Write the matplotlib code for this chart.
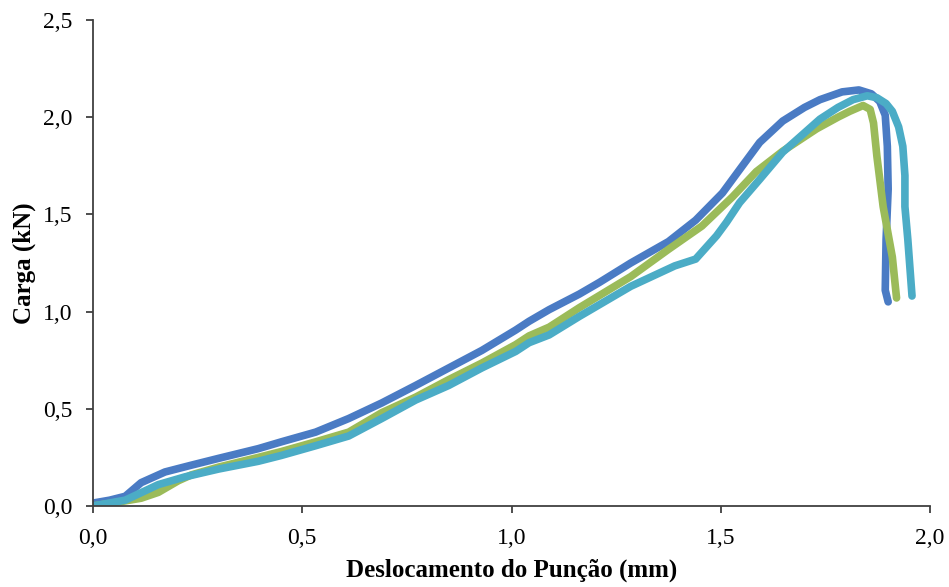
import matplotlib
matplotlib.use("Agg")
import matplotlib.pyplot as plt
from matplotlib.ticker import FuncFormatter

# curvas carga x deslocamento (mm, kN) - tres corpos de prova
desl_1 = [0.0, 0.04, 0.077, 0.115, 0.172, 0.235, 0.30, 0.395, 0.45, 0.532, 0.611, 0.69,
          0.771, 0.85, 0.929, 1.01, 1.042, 1.09, 1.162, 1.21, 1.285, 1.375, 1.44, 1.504,
          1.545, 1.593, 1.648, 1.70, 1.737, 1.79, 1.83, 1.86, 1.88, 1.893, 1.898, 1.90,
          1.895, 1.893, 1.90]
carga_1 = [0.015, 0.03, 0.05, 0.12, 0.175, 0.21, 0.245, 0.295, 0.33, 0.38, 0.45, 0.53,
           0.62, 0.71, 0.80, 0.905, 0.95, 1.01, 1.09, 1.15, 1.25, 1.36, 1.47, 1.61,
           1.73, 1.87, 1.98, 2.05, 2.09, 2.13, 2.14, 2.12, 2.08, 2.01, 1.85, 1.63,
           1.37, 1.11, 1.05]

desl_2 = [0.0, 0.06, 0.115, 0.156, 0.204, 0.235, 0.30, 0.395, 0.45, 0.532, 0.611, 0.69,
          0.771, 0.85, 0.929, 1.01, 1.042, 1.09, 1.162, 1.285, 1.375, 1.455, 1.528, 1.585,
          1.648, 1.729, 1.78, 1.808, 1.84, 1.857, 1.865, 1.873, 1.888, 1.91, 1.92]
carga_2 = [0.0, 0.02, 0.04, 0.07, 0.13, 0.16, 0.20, 0.25, 0.28, 0.33, 0.38, 0.48,
           0.56, 0.65, 0.735, 0.83, 0.875, 0.92, 1.02, 1.18, 1.32, 1.44, 1.59, 1.72,
           1.825, 1.94, 2.0, 2.03, 2.06, 2.04, 1.97, 1.80, 1.54, 1.28, 1.07]

desl_3 = [0.0, 0.077, 0.156, 0.22, 0.30, 0.395, 0.45, 0.532, 0.611, 0.69, 0.771, 0.85,
          0.929, 1.01, 1.042, 1.09, 1.162, 1.285, 1.39, 1.44, 1.49, 1.514, 1.545, 1.593,
          1.648, 1.737, 1.78, 1.816, 1.85, 1.873, 1.895, 1.91, 1.925, 1.935, 1.94, 1.94,
          1.947, 1.957]
carga_3 = [0.0, 0.03, 0.11, 0.15, 0.19, 0.23, 0.26, 0.31, 0.36, 0.45, 0.545, 0.62,
           0.71, 0.795, 0.84, 0.88, 0.975, 1.13, 1.235, 1.27, 1.39, 1.46, 1.56, 1.68,
           1.82, 1.99, 2.05, 2.09, 2.11, 2.10, 2.07, 2.03, 1.95, 1.85, 1.70, 1.54,
           1.37, 1.08]

cores = ["#4a7bc4", "#9bbb59", "#4bacc6"]

plt.rcParams["font.family"] = ["Liberation Serif", "DejaVu Serif"]

fig = plt.figure(figsize=(9.49, 5.87), dpi=100)
ax = fig.add_axes([0.098, 0.138, 0.882, 0.828])

for x, y, c in zip([desl_1, desl_2, desl_3], [carga_1, carga_2, carga_3], cores):
    ax.plot(x, y, color=c, linewidth=5.5, solid_capstyle="round",
            solid_joinstyle="round")

ax.set_xlim(0, 2.0)
ax.set_ylim(0, 2.5)
ax.set_xticks([0, 0.5, 1.0, 1.5, 2.0])
ax.set_yticks([0, 0.5, 1.0, 1.5, 2.0, 2.5])
virgula = FuncFormatter(lambda v, p: ("%.1f" % v).replace(".", ","))
ax.xaxis.set_major_formatter(virgula)
ax.yaxis.set_major_formatter(virgula)

for lado in ["top", "right"]:
    ax.spines[lado].set_visible(False)
for lado in ["left", "bottom"]:
    ax.spines[lado].set_color("#404040")
    ax.spines[lado].set_linewidth(1.3)
ax.tick_params(direction="out", length=5, width=1.3, color="#404040", labelsize=17)
ax.tick_params(axis="x", pad=11)
ax.tick_params(axis="y", pad=10)

ax.set_xlabel("Deslocamento do Punção (mm)", fontsize=18, fontweight="bold", labelpad=7)
ax.set_ylabel("Carga (kN)", fontsize=18, fontweight="bold", labelpad=5)

fig.savefig("out.png", dpi=100)
